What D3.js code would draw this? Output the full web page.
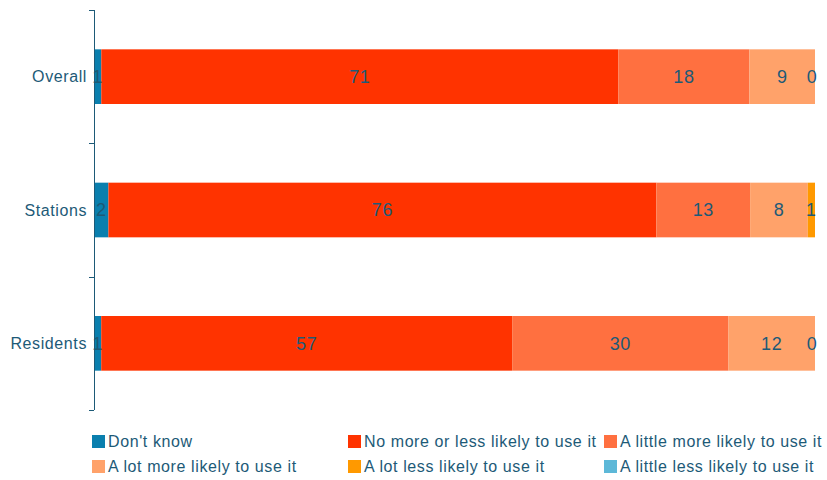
<!DOCTYPE html>
<html>
<head>
<meta charset="utf-8">
<script src="https://cdn.jsdelivr.net/npm/d3@7"></script>
<style>
  html, body { margin: 0; padding: 0; background: #fff; }
  svg { display: block; font-family: "Liberation Sans", Arial, sans-serif; }
</style>
</head>
<body>
<svg id="chart" width="827" height="480"></svg>
<script>
// Survey responses by group (percent)
const categories = ["Overall", "Stations", "Residents"];
const seriesNames = [
  "Don't know",
  "No more or less likely to use it",
  "A little more likely to use it",
  "A lot more likely to use it",
  "A lot less likely to use it",
  "A little less likely to use it"
];
const dontKnow       = [1, 2, 1];
const noMoreOrLess   = [71, 76, 57];
const littleMore     = [18, 13, 30];
const lotMore        = [9, 8, 12];
const lotLess        = [0, 1, 0];
const littleLess     = [0, 0, 0];
const seriesColors = ["#0A7FAE", "#FF3300", "#FF7040", "#FFA26A", "#FF9900", "#5DB8D8"];
const labelledSeries = [true, true, true, true, true, false];

const seriesValues = [dontKnow, noMoreOrLess, littleMore, lotMore, lotLess, littleLess];
const rows = categories.map((c, i) => {
  const r = { category: c };
  seriesNames.forEach((s, j) => { r[s] = seriesValues[j][i]; });
  return r;
});

const svg = d3.select("#chart");
const margin = { left: 94, top: 10 };
const textColor = "#1D5A77";
const spacing = "0.6px";

const x = d3.scaleLinear().domain([0, 1]).range([margin.left, 815]);
const y = d3.scaleBand().domain(categories).range([margin.top, 410]).paddingInner(0.59).paddingOuter(0.295);

// 100% stacked layout
const stack = d3.stack().keys(seriesNames).offset(d3.stackOffsetExpand);
const layers = stack(rows);

const g = svg.append("g");
layers.forEach((layer, li) => {
  g.append("g").selectAll("rect")
    .data(layer)
    .join("rect")
    .attr("x", d => x(d[0]))
    .attr("width", d => Math.max(0, x(d[1]) - x(d[0])))
    .attr("y", d => y(d.data.category))
    .attr("height", y.bandwidth())
    .attr("fill", seriesColors[li]);
});

// Value labels centred in each segment
layers.forEach((layer, li) => {
  if (!labelledSeries[li]) return;
  g.append("g").selectAll("text")
    .data(layer)
    .join("text")
    .attr("x", d => Math.min((x(d[0]) + x(d[1])) / 2, 812))
    .attr("y", d => y(d.data.category) + y.bandwidth() / 2)
    .attr("dy", "0.36em")
    .attr("text-anchor", "middle")
    .attr("font-size", 18)
    .attr("letter-spacing", spacing)
    .attr("fill", textColor)
    .text(d => d.data[seriesNames[li]]);
});

// Category axis
const axisColor = "#1D5A77";
const ax = svg.append("g");
ax.append("line")
  .attr("x1", margin.left + 0.5).attr("x2", margin.left + 0.5)
  .attr("y1", margin.top).attr("y2", 410)
  .attr("stroke", axisColor).attr("stroke-width", 1);
const bounds = [margin.top].concat(categories.map(c => y(c) + y.bandwidth() + y.step() * 0.295));
ax.selectAll("line.tick")
  .data(bounds)
  .join("line")
  .attr("class", "tick")
  .attr("x1", margin.left - 5).attr("x2", margin.left)
  .attr("y1", d => Math.round(d) + 0.5).attr("y2", d => Math.round(d) + 0.5)
  .attr("stroke", axisColor);
ax.selectAll("text")
  .data(categories)
  .join("text")
  .attr("x", 87)
  .attr("y", c => y(c) + y.bandwidth() / 2)
  .attr("dy", "0.36em")
  .attr("text-anchor", "end")
  .attr("font-size", 16)
  .attr("letter-spacing", spacing)
  .attr("fill", textColor)
  .text(c => c);

// Legend
const legendCols = [92, 348, 604];
const legendRows = [441, 466];
const legend = svg.append("g");
seriesNames.forEach((s, i) => {
  const lx = legendCols[i % 3], ly = legendRows[Math.floor(i / 3)];
  legend.append("rect")
    .attr("x", lx).attr("y", ly - 6).attr("width", 13).attr("height", 13)
    .attr("fill", seriesColors[i]);
  legend.append("text")
    .attr("x", lx + 16).attr("y", ly)
    .attr("dy", "0.36em")
    .attr("font-size", 16)
    .attr("letter-spacing", spacing)
    .attr("fill", textColor)
    .text(s);
});
</script>
</body>
</html>
